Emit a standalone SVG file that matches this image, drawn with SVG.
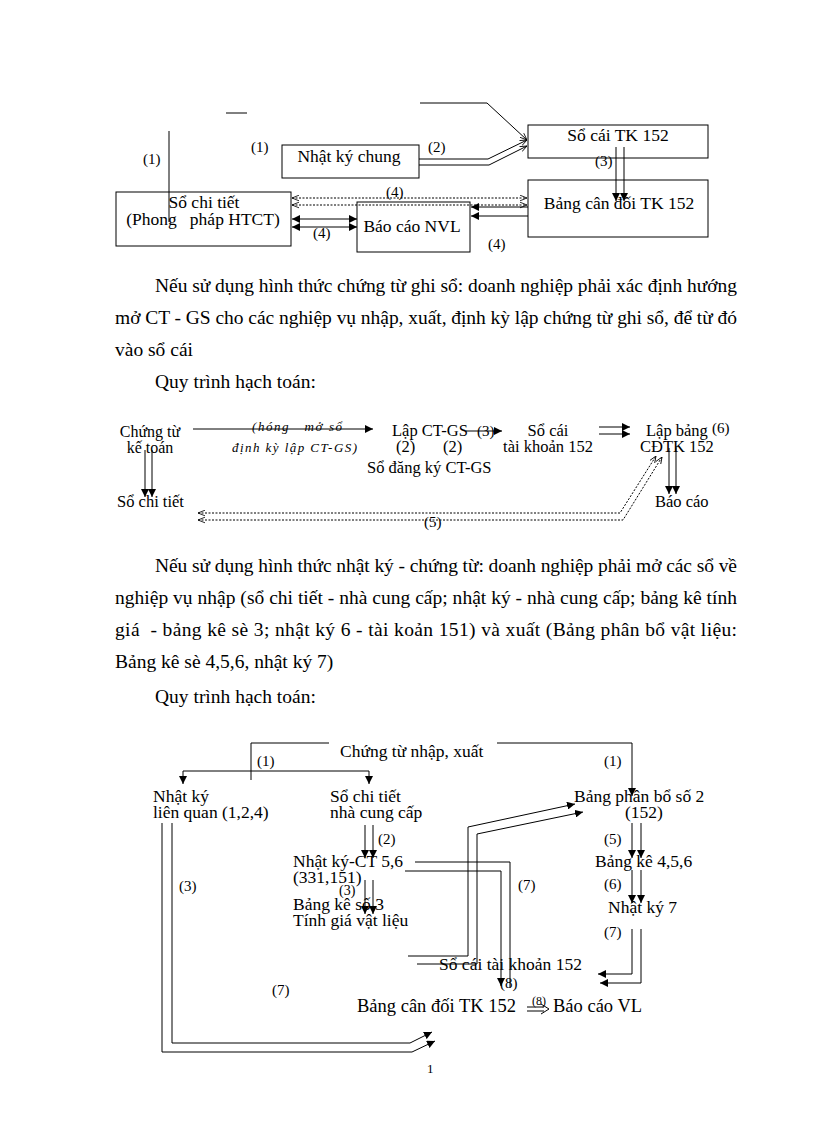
<svg xmlns="http://www.w3.org/2000/svg" width="816" height="1123" viewBox="0 0 816 1123">
<style>
text{font-family:"Liberation Serif","Times New Roman",serif;fill:#000;white-space:pre}
.p{font-size:19.5px}
.t{font-size:17.5px}
.l{font-size:16.5px}
.b{font-size:17.5px}
.s{font-size:15px}
.i{font-size:13px;font-style:italic}
.c{text-anchor:middle}
.ln{fill:none;stroke:#000;stroke-width:1}
.dt{fill:none;stroke:#000;stroke-width:1;stroke-dasharray:2,1.5}
.bx{fill:#fff;stroke:#000;stroke-width:1}
</style>
<defs>
<marker id="fa" viewBox="0 0 10 10" refX="10" refY="5" markerWidth="8" markerHeight="8" markerUnits="userSpaceOnUse" orient="auto-start-reverse"><path d="M0,0 L10,5 L0,10 z" fill="#000"/></marker>
<marker id="oa" viewBox="0 0 10 10" refX="10" refY="5" markerWidth="7" markerHeight="7" markerUnits="userSpaceOnUse" orient="auto-start-reverse"><path d="M0,1 L10,5 L0,9" fill="none" stroke="#000" stroke-width="1.2"/></marker>
</defs>
<rect width="816" height="1123" fill="#fff"/>

<!-- Diagram 1 nodes -->
<g id="nkc"><rect class="bx" x="282" y="145" width="137" height="33"/><text class="t c" x="349" y="162">Nhật ký chung</text></g>
<g id="sct"><rect class="bx" x="116" y="192" width="175" height="54"/><text class="t c" x="204" y="208">Sổ chi tiết</text><text class="t c" x="203" y="225">(Phong   pháp HTCT)</text></g>
<g id="bcnvl"><rect class="bx" x="357" y="202" width="113" height="50"/><text class="t c" x="412" y="232">Báo cáo NVL</text></g>
<g id="sctk"><rect class="bx" x="528" y="125" width="180" height="33"/><text class="t c" x="618" y="141">Sổ cái TK 152</text></g>
<g id="bcd"><rect class="bx" x="528" y="180" width="180" height="57"/><text class="t c" x="619" y="209">Bảng cân đối TK 152</text></g>

<g id="conn1">
<line class="ln" x1="226" y1="113" x2="247" y2="113"/>
<line class="ln" x1="169" y1="131" x2="169" y2="222"/>
<polyline class="ln" points="420,103 487,103 527,140" marker-end="url(#oa)"/>
<polyline class="ln" points="419,159 488,159 527,140" marker-end="url(#oa)"/>
<polyline class="ln" points="419,165 489,165 527,146" marker-end="url(#oa)"/>
<line class="ln" x1="616" y1="147" x2="616" y2="201" marker-end="url(#fa)"/>
<line class="ln" x1="624" y1="147" x2="624" y2="201" marker-end="url(#fa)"/>
<line class="dt" x1="292" y1="198" x2="527" y2="198" marker-start="url(#oa)" marker-end="url(#oa)"/>
<line class="dt" x1="292" y1="205" x2="527" y2="205" marker-start="url(#oa)" marker-end="url(#oa)"/>
<line class="ln" x1="292" y1="219" x2="357" y2="219" marker-start="url(#fa)" marker-end="url(#fa)"/>
<line class="ln" x1="292" y1="227" x2="357" y2="227" marker-start="url(#fa)" marker-end="url(#fa)"/>
<line class="ln" x1="528" y1="207" x2="471" y2="207" marker-end="url(#fa)"/>
<line class="ln" x1="528" y1="216" x2="471" y2="216" marker-end="url(#fa)"/>
</g>
<g id="lab1">
<text class="s" x="143" y="164">(1)</text>
<text class="s" x="251" y="152">(1)</text>
<text class="s" x="428" y="152">(2)</text>
<text class="s" x="595" y="166">(3)</text>
<text class="s" x="386" y="197">(4)</text>
<text class="s" x="313" y="238">(4)</text>
<text class="s" x="488" y="249">(4)</text>
</g>

<!-- Paragraph 1 -->
<text class="p" x="155" y="292" textLength="582" lengthAdjust="spacing">Nếu sử dụng hình thức chứng từ ghi sổ: doanh nghiệp phải xác định hướng</text>
<text class="p" x="115" y="324" textLength="622" lengthAdjust="spacing">mở CT - GS cho các nghiệp vụ nhập, xuất, định kỳ lập chứng từ ghi sổ, để từ đó</text>
<text class="p" x="115" y="356">vào sổ cái</text>
<text class="p" x="155" y="388">Quy trình hạch toán:</text>

<!-- Diagram 2 -->
<g id="ctkt"><text class="l c" x="150" y="437" style="font-size:16px">Chứng từ</text><text class="l c" x="150" y="453" style="font-size:16px">kế toán</text></g>
<g id="note2"><text class="i" x="252" y="431" textLength="90" lengthAdjust="spacing">(hóng   mở sổ</text><text class="i" x="232" y="452" textLength="125" lengthAdjust="spacing">định kỳ lập CT-GS)</text></g>
<g id="sct2"><text class="l" x="117" y="507">Sổ chi tiết</text></g>
<g id="lapct"><text class="l" x="392" y="436">Lập CT-GS</text><text class="l" x="396" y="452">(2)</text><text class="l" x="443" y="452">(2)</text><text class="l" x="367" y="473">Sổ đăng ký CT-GS</text></g>
<g id="socai2"><text class="l c" x="548" y="436">Sổ cái</text><text class="l c" x="548" y="452">tài khoản 152</text></g>
<g id="lapbang"><text class="l" x="646" y="436">Lập bảng</text><text class="s" x="712" y="433">(6)</text><text class="l" x="640" y="452">CĐTK 152</text></g>
<g id="baocao2"><text class="l" x="655" y="507">Báo cáo</text></g>
<g id="conn2">
<line class="ln" x1="193" y1="429" x2="373" y2="429" marker-end="url(#fa)"/>
<line class="ln" x1="145" y1="450" x2="145" y2="497" marker-end="url(#fa)"/>
<line class="ln" x1="152" y1="450" x2="152" y2="497" marker-end="url(#fa)"/>
<line class="ln" x1="466" y1="431" x2="502" y2="431" marker-end="url(#fa)"/>
<line class="ln" x1="599" y1="427" x2="630" y2="427" marker-end="url(#fa)"/>
<line class="ln" x1="599" y1="434" x2="630" y2="434" marker-end="url(#fa)"/>
<line class="ln" x1="669" y1="448" x2="669" y2="494" marker-end="url(#fa)"/>
<line class="ln" x1="676" y1="448" x2="676" y2="494" marker-end="url(#fa)"/>
<polyline class="dt" points="198,513 620,513 656,456" marker-start="url(#oa)" marker-end="url(#oa)"/>
<polyline class="dt" points="198,520 623,520 662,457" marker-start="url(#oa)" marker-end="url(#oa)"/>
</g>
<g id="lab2">
<text class="s" x="477" y="436">(3)</text>
<text class="s" x="424" y="527">(5)</text>
</g>

<!-- Paragraph 2 -->
<text class="p" x="155" y="572" textLength="582" lengthAdjust="spacing">Nếu sử dụng hình thức nhật ký - chứng từ: doanh nghiệp phải mở các sổ về</text>
<text class="p" x="115" y="604" textLength="622" lengthAdjust="spacing">nghiệp vụ nhập (sổ chi tiết - nhà cung cấp; nhật ký - nhà cung cấp; bảng kê tính</text>
<text class="p" x="115" y="636" textLength="622" lengthAdjust="spacing">giá  - bảng kê sè 3; nhật ký 6 - tài koản 151) và xuất (Bảng phân bổ vật liệu:</text>
<text class="p" x="115" y="668">Bảng kê sè 4,5,6, nhật ký 7)</text>
<text class="p" x="155" y="703">Quy trình hạch toán:</text>

<!-- Diagram 3 -->
<g id="ctnx"><text class="b" x="340" y="757">Chứng từ nhập, xuất</text></g>
<g id="nklq"><text class="b" x="153" y="802">Nhật ký</text><text class="b" x="153" y="818">liên quan (1,2,4)</text></g>
<g id="sctncc"><text class="b" x="330" y="802">Sổ chi tiết</text><text class="b" x="330" y="818">nhà cung cấp</text></g>
<g id="nkct"><text class="b" x="293" y="867">Nhật ký-CT 5,6</text><text class="b" x="293" y="883">(331,151)</text></g>
<g id="bk3"><text class="b" x="293" y="910">Bảng kê số 3</text><text class="b" x="293" y="926">Tính giá vật liệu</text></g>
<g id="bpb"><text class="b" x="574" y="802">Bảng phân bổ số 2</text><text class="b" x="625" y="818">(152)</text></g>
<g id="bk456"><text class="b" x="595" y="867">Bảng kê 4,5,6</text></g>
<g id="nk7"><text class="b" x="608" y="913">Nhật ký 7</text></g>
<g id="sctk3"><text class="b" x="439" y="970">Sổ cái tài khoản 152</text></g>
<g id="bcd3"><text class="b" x="357" y="1012" style="font-size:18.5px">Bảng cân đối TK 152</text></g>
<g id="bcvl"><text class="b" x="553" y="1012" style="font-size:18.5px">Báo cáo VL</text></g>
<g id="conn3">
<polyline class="ln" points="329,743 251,743 251,780"/>
<polyline class="ln" points="251,771 183,771 183,784" marker-end="url(#fa)"/>
<polyline class="ln" points="251,771 369,771 369,784" marker-end="url(#fa)"/>
<polyline class="ln" points="497,743 632,743 632,796" marker-end="url(#fa)"/>
<line class="ln" x1="365" y1="825" x2="365" y2="858" marker-end="url(#fa)"/>
<line class="ln" x1="373" y1="825" x2="373" y2="858" marker-end="url(#fa)"/>
<line class="ln" x1="632" y1="823" x2="632" y2="858" marker-end="url(#fa)"/>
<line class="ln" x1="641" y1="823" x2="641" y2="858" marker-end="url(#fa)"/>
<line class="ln" x1="632" y1="870" x2="632" y2="903" marker-end="url(#fa)"/>
<line class="ln" x1="641" y1="870" x2="641" y2="903" marker-end="url(#fa)"/>
<line class="ln" x1="365" y1="880" x2="365" y2="914" marker-end="url(#fa)"/>
<line class="ln" x1="373" y1="880" x2="373" y2="914" marker-end="url(#fa)"/>
<polyline class="ln" points="415,862 510,862 510,988"/>
<polyline class="ln" points="405,871 501,871 501,986" marker-end="url(#fa)"/>
<polyline class="ln" points="632,929 632,974 598,974" marker-end="url(#fa)"/>
<polyline class="ln" points="641,929 641,983 600,983" marker-end="url(#fa)"/>
<polyline class="ln" points="408,956 468,956 468,827 575,804" marker-end="url(#fa)"/>
<polyline class="ln" points="417,964 477,964 477,834 583,812" marker-end="url(#fa)"/>
<polyline class="ln" points="172,823 172,1043 410,1043 432,1032" marker-end="url(#fa)"/>
<polyline class="ln" points="162,823 162,1052 412,1052 435,1041" marker-end="url(#fa)"/>
<line class="ln" x1="527" y1="1007" x2="544" y2="1007"/>
<line class="ln" x1="527" y1="1011" x2="544" y2="1011"/>
<polyline class="ln" points="541,1004 549,1009 541,1014"/>
</g>
<g id="lab3">
<text class="s" x="257" y="766">(1)</text>
<text class="s" x="604" y="766">(1)</text>
<text class="s" x="378" y="844">(2)</text>
<text class="s" x="179" y="891">(3)</text>
<text class="s" x="339" y="895" style="font-size:14px">(3)</text>
<text class="s" x="604" y="844">(5)</text>
<text class="s" x="604" y="889">(6)</text>
<text class="s" x="518" y="890">(7)</text>
<text class="s" x="604" y="937">(7)</text>
<text class="s" x="272" y="995">(7)</text>
<text class="s" x="500" y="988">(8)</text>
<text class="s" x="532" y="1005" style="font-size:12px">(8)</text>
</g>
<text class="s" x="427" y="1073" style="font-size:13px">1</text>
</svg>
